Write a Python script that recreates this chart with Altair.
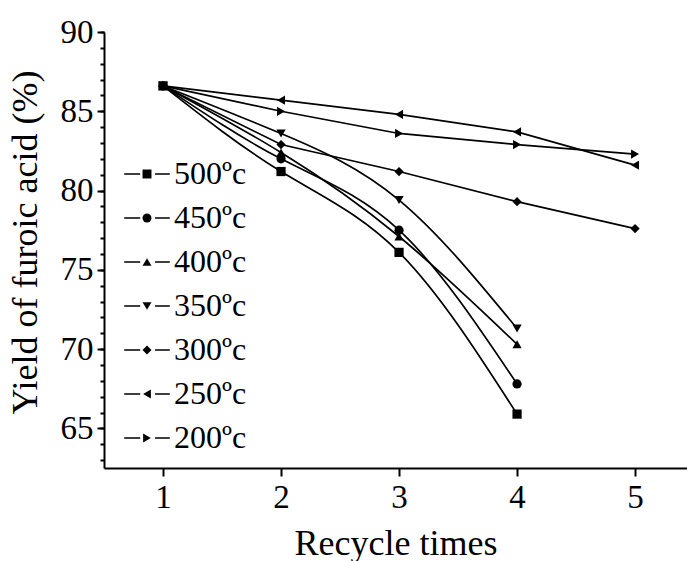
import altair as alt
import pandas as pd

# ---- data ----
recycle = [1, 2, 3, 4, 5]
temps = [500, 450, 400, 350, 300, 250, 200]
y500 = [86.6, 81.2, 76.1, 65.9]
y450 = [86.6, 82.0, 77.5, 67.8]
y400 = [86.6, 82.4, 77.1, 70.3]
y350 = [86.6, 83.6, 79.4, 71.3]
y300 = [86.6, 82.9, 81.2, 79.3, 77.6]
y250 = [86.6, 85.7, 84.8, 83.7, 81.6]
y200 = [86.6, 85.0, 83.6, 82.9, 82.3]
series = {500: y500, 450: y450, 400: y400, 350: y350, 300: y300, 250: y250, 200: y200}
curved = [500, 450, 400, 350]
shapes = ["square", "circle", "triangle-up", "triangle-down", "diamond", "triangle-left", "triangle-right"]
y_major = [65, 70, 75, 80, 85, 90]
y_minor = list(range(63, 91))
x_ticks = [1, 2, 3, 4, 5]

rows = []
for t in temps:
    for r, v in zip(recycle, series[t]):
        rows.append({"recycle": r, "yield": v, "temp": t, "curved": t in curved})
df = pd.DataFrame(rows)

FONT = "Liberation Serif"
x_scale = alt.Scale(domain=[0.5, 5.44], nice=False, zero=False)
y_scale = alt.Scale(domain=[62.5, 90], nice=False, zero=False)

x_axis = alt.Axis(values=x_ticks, title="Recycle times", grid=False, orient="bottom",
                  labelFontSize=33, titleFontSize=36, labelFont=FONT, titleFont=FONT,
                  tickSize=8, tickWidth=2, domainWidth=2, labelPadding=5,
                  titlePadding=12, titleFontWeight="normal",
                  labelColor="black", titleColor="black",
                  domainColor="black", tickColor="black")
y_axis = alt.Axis(values=y_major, title="Yield of furoic acid (%)", grid=False, orient="left",
                  labelFontSize=33, titleFontSize=36, labelFont=FONT, titleFont=FONT,
                  tickSize=7, tickWidth=2, domainWidth=2, labelPadding=4,
                  titlePadding=16, titleFontWeight="normal", titleY=210,
                  labelColor="black", titleColor="black",
                  domainColor="black", tickColor="black")
y_minor_axis = alt.Axis(values=y_minor, labels=False, title=None, grid=False, domain=False,
                        orient="left", tickSize=4, tickWidth=2, tickColor="black")

LEG = dict(title=None, orient="none", legendX=27, legendY=126,
           labelFont=FONT, labelFontSize=32, labelColor="black",
           labelExpr="datum.label + 'ºc'", rowPadding=12)

line_curved = alt.Chart(df).transform_filter("datum.curved").mark_line(
    interpolate="natural", color="black", strokeWidth=1.7
).encode(x=alt.X("recycle:Q", scale=x_scale, axis=x_axis),
         y=alt.Y("yield:Q", scale=y_scale, axis=y_axis),
         detail="temp:N")

line_straight = alt.Chart(df).transform_filter("!datum.curved").mark_line(
    color="black", strokeWidth=1.7
).encode(x=alt.X("recycle:Q", scale=x_scale, axis=None),
         y=alt.Y("yield:Q", scale=y_scale, axis=None),
         detail="temp:N")

minor = alt.Chart(df).mark_point(opacity=0).encode(
    x=alt.X("recycle:Q", scale=x_scale, axis=None),
    y=alt.Y("yield:Q", scale=y_scale, axis=y_minor_axis),
)

points = alt.Chart(df).mark_point(filled=True, size=85, opacity=1, color="black").encode(
    x=alt.X("recycle:Q", scale=x_scale, axis=None),
    y=alt.Y("yield:Q", scale=y_scale, axis=None),
    shape=alt.Shape("temp:N", sort=temps,
                    scale=alt.Scale(domain=temps, range=shapes),
                    legend=alt.Legend(**LEG, symbolSize=80, labelOffset=11, symbolOpacity=1)),
)

# legend-only layer that draws the short line pieces on either side of each symbol
seg = "M-5.7,0H-1.7M2.0,0H5.7"
legend_lines = alt.Chart(df).transform_filter("false").mark_point(
    filled=False, size=64, opacity=1, color="black", strokeWidth=1.5
).encode(
    x=alt.X("recycle:Q", scale=x_scale, axis=None),
    y=alt.Y("yield:Q", scale=y_scale, axis=None),
    shape=alt.Shape("temp:N", sort=temps,
                    scale=alt.Scale(domain=temps, range=[seg] * len(temps)),
                    legend=alt.Legend(**LEG, symbolSize=64, labelOffset=12, labelOpacity=0,
                                      symbolStrokeColor="black",
                                      symbolStrokeWidth=1.5, symbolOpacity=1)),
)

chart = alt.layer(line_curved, line_straight, minor, points, legend_lines).resolve_scale(
    shape="independent"
).resolve_axis(x="independent", y="independent").properties(
    width=583, height=436,
    background="white",
    autosize=alt.AutoSizeParams(type="none"),
    padding={"left": 104, "top": 32, "right": 0, "bottom": 93},
).configure_view(stroke=None)

chart.save("out.html", embed_options={"renderer": "svg", "actions": False})
